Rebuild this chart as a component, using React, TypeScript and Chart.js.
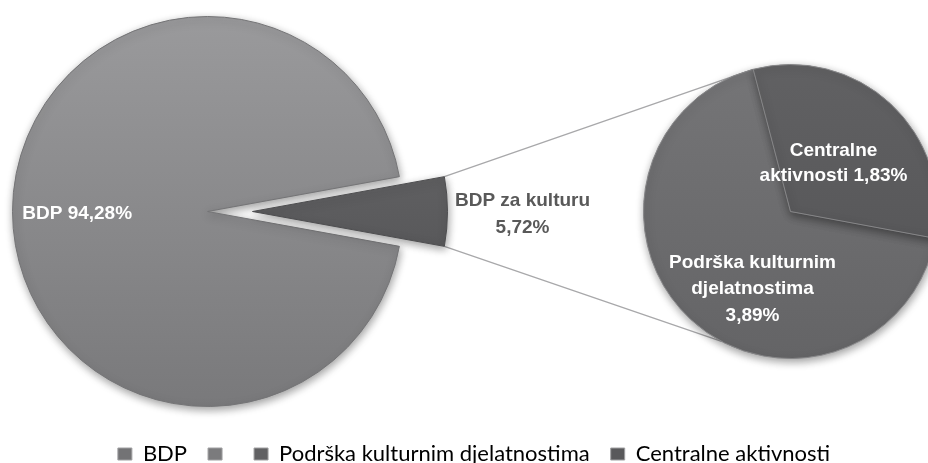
import React, { useEffect, useRef } from "react";
import { Chart, registerables } from "chart.js";
Chart.register(...registerables);

// ---- data ----
const MAIN_LABELS = ["BDP", "BDP za kulturu"];
const MAIN_VALUES = [94.28, 5.72];
const SUB_LABELS = ["Podrška kulturnim djelatnostima", "Centralne aktivnosti"];
const SUB_VALUES = [3.89, 1.83];
const LEGEND_LABELS = ["BDP", "", "Podrška kulturnim djelatnostima", "Centralne aktivnosti"];
const MAIN_LABEL_LINES = [["BDP 94,28%"], ["BDP za kulturu", "5,72%"]];
const SUB_LABEL_LINES = [["Podrška kulturnim", "djelatnostima", "3,89%"], ["Centralne", "aktivnosti 1,83%"]];

// ---- layout / style ----
const W = 928;
const H = 463;
const PAD = 12;
const L_R = 195;
const L_CX = 207;
const L_CY = 211;
const SHIFT = 45;
const R_R = 147;
const R_CX = 790;
const R_CY = 211;
const L_SIZE = 2 * L_R + 1 + 2 * PAD;
const R_SIZE = 2 * R_R + 1 + 2 * PAD;
const L_LEFT = Math.round(L_CX - L_SIZE / 2);
const L_TOP = Math.round(L_CY - L_SIZE / 2);
const S_LEFT = L_LEFT + SHIFT;
const R_LEFT = Math.round(R_CX - R_SIZE / 2);
const R_TOP = Math.round(R_CY - R_SIZE / 2);
const OV_H = 475;
const BOTTOM_CONNECT_DEG = 118;
const LABEL_FONT = "bold 19px 'Liberation Sans', Arial, sans-serif";
const TRANSPARENT = "rgba(0,0,0,0)";
const LEGEND_COLORS = ["#737375", "#7b7b7d", "#616163", "#59595b"];

function grad(chart: any, top: string, bottom: string) {
  const a = chart.chartArea;
  if (!a) return bottom;
  const g = chart.ctx.createLinearGradient(0, a.top, 0, a.bottom);
  g.addColorStop(0, top);
  g.addColorStop(1, bottom);
  return g;
}

const shadowPlugin = {
  id: "shadow",
  beforeDatasetsDraw(chart: any) {
    const ctx = chart.ctx;
    ctx.save();
    ctx.shadowColor = "rgba(0,0,0,0.38)";
    ctx.shadowBlur = 8;
    ctx.shadowOffsetX = 1;
    ctx.shadowOffsetY = 3;
  },
  afterDatasetsDraw(chart: any) {
    chart.ctx.restore();
  },
};

function drawLines(ctx: CanvasRenderingContext2D, lines: string[], x: number, y: number, lh: number, color: string, align: CanvasTextAlign) {
  ctx.save();
  ctx.font = LABEL_FONT;
  ctx.fillStyle = color;
  ctx.textAlign = align;
  ctx.textBaseline = "middle";
  lines.forEach((t, i) => ctx.fillText(t, x, y + i * lh));
  ctx.restore();
}

export default function App() {
  const ovRef = useRef<HTMLCanvasElement>(null);
  const mainRef = useRef<HTMLCanvasElement>(null);
  const sliceRef = useRef<HTMLCanvasElement>(null);
  const subRef = useRef<HTMLCanvasElement>(null);

  useEffect(() => {
    const rotation = 90 + ((MAIN_VALUES[1] / (MAIN_VALUES[0] + MAIN_VALUES[1])) * 360) / 2;
    const baseOpts = (extra: any = {}) => ({
      responsive: false,
      animation: false as const,
      rotation,
      layout: { padding: PAD },
      plugins: { legend: { display: false }, tooltip: { enabled: false } },
      ...extra,
    });

    const mainChart = new Chart(mainRef.current!, {
      type: "pie",
      data: {
        labels: MAIN_LABELS,
        datasets: [
          {
            data: MAIN_VALUES,
            backgroundColor: (c: any) => (c.dataIndex === 0 ? grad(c.chart, "#9a9a9c", "#79797b") : TRANSPARENT),
            borderColor: (c: any) => (c.dataIndex === 0 ? "#747476" : TRANSPARENT),
            borderWidth: 1,
          },
        ],
      },
      options: baseOpts(),
      plugins: [
        shadowPlugin,
        {
          id: "mainLabel",
          afterDraw(chart: any) {
            const arc = chart.getDatasetMeta(0).data[0];
            drawLines(chart.ctx, MAIN_LABEL_LINES[0], arc.x - 0.95 * arc.outerRadius, arc.y + 2, 26, "#ffffff", "left");
          },
        },
      ],
    });

    const sliceChart = new Chart(sliceRef.current!, {
      type: "pie",
      data: {
        labels: MAIN_LABELS,
        datasets: [
          {
            data: MAIN_VALUES,
            backgroundColor: (c: any) => (c.dataIndex === 1 ? grad(c.chart, "#6e6e70", "#4a4a4c") : TRANSPARENT),
            borderColor: (c: any) => (c.dataIndex === 1 ? "#4d4d4f" : TRANSPARENT),
            borderWidth: 1,
          },
        ],
      },
      options: baseOpts(),
      plugins: [shadowPlugin],
    });

    const subRotation = 90 + 10.5;
    const subChart = new Chart(subRef.current!, {
      type: "pie",
      data: {
        labels: SUB_LABELS,
        datasets: [
          {
            data: SUB_VALUES,
            backgroundColor: (c: any) =>
              c.dataIndex === 0 ? grad(c.chart, "#757577", "#646466") : grad(c.chart, "#616163", "#525254"),
            borderColor: "#858587",
            borderWidth: 1,
          },
        ],
      },
      options: baseOpts({ rotation: subRotation }),
      plugins: [
        shadowPlugin,
        {
          id: "subLabels",
          afterDraw(chart: any) {
            const arc = chart.getDatasetMeta(0).data[0];
            const cx = arc.x;
            const cy = arc.y;
            drawLines(chart.ctx, SUB_LABEL_LINES[0], cx - 38, cy + 51, 26.5, "#ffffff", "center");
            drawLines(chart.ctx, SUB_LABEL_LINES[1], cx + 43, cy - 61, 25, "#ffffff", "center");
          },
        },
      ],
    });

    const ovChart = new Chart(ovRef.current!, {
      type: "pie",
      data: { labels: LEGEND_LABELS, datasets: [{ data: [] }] },
      options: {
        responsive: false,
        animation: false,
        layout: { padding: { left: 20 } },
        plugins: {
          tooltip: { enabled: false },
          legend: {
            display: true,
            position: "bottom",
            labels: {
              font: { family: "Lato", size: 22 },
              color: "#5a5a5a",
              boxWidth: 14,
              boxHeight: 12,
              padding: 21,
              generateLabels: () =>
                LEGEND_LABELS.map((t, i) => ({
                  text: t,
                  fillStyle: LEGEND_COLORS[i],
                  strokeStyle: "#a0a0a2",
                  lineWidth: 1,
                  hidden: false,
                  index: i,
                  datasetIndex: 0,
                })),
            },
          },
        },
      },
      plugins: [
        {
          id: "connectors",
          afterDraw(chart: any) {
            const ctx = chart.ctx;
            const s = sliceChart.getDatasetMeta(0).data[1] as any;
            const sx = s.x + S_LEFT;
            const sy = s.y + L_TOP;
            const sr = s.outerRadius;
            const c = subChart.getDatasetMeta(0).data[1] as any;
            const rx = c.x + R_LEFT;
            const ry = c.y + R_TOP;
            const rr = c.outerRadius;
            const b = (BOTTOM_CONNECT_DEG * Math.PI) / 180;
            ctx.save();
            ctx.strokeStyle = "#a8a8aa";
            ctx.lineWidth = 1.3;
            ctx.beginPath();
            ctx.moveTo(sx + sr * Math.cos(s.startAngle), sy + sr * Math.sin(s.startAngle));
            ctx.lineTo(rx + rr * Math.cos(c.startAngle), ry + rr * Math.sin(c.startAngle));
            ctx.moveTo(sx + sr * Math.cos(s.endAngle), sy + sr * Math.sin(s.endAngle));
            ctx.lineTo(rx + rr * Math.cos(b), ry + rr * Math.sin(b));
            ctx.stroke();
            ctx.restore();
            drawLines(ctx, MAIN_LABEL_LINES[1], sx + sr + 75, sy - 11, 27, "#595959", "center");
          },
        },
      ],
    });

    return () => {
      ovChart.destroy();
      mainChart.destroy();
      sliceChart.destroy();
      subChart.destroy();
    };
  }, []);

  const abs = (left: number, top: number, w: number, h: number): React.CSSProperties => ({
    position: "absolute",
    left,
    top,
    width: w,
    height: h,
  });

  return (
    <div style={{ position: "fixed", left: 0, top: 0, width: W, height: H, overflow: "hidden", background: "#ffffff" }}>
      <canvas ref={ovRef} width={W} height={OV_H} style={abs(0, 0, W, OV_H)} />
      <canvas ref={mainRef} width={L_SIZE} height={L_SIZE} style={abs(L_LEFT, L_TOP, L_SIZE, L_SIZE)} />
      <canvas ref={sliceRef} width={L_SIZE} height={L_SIZE} style={abs(S_LEFT, L_TOP, L_SIZE, L_SIZE)} />
      <canvas ref={subRef} width={R_SIZE} height={R_SIZE} style={abs(R_LEFT, R_TOP, R_SIZE, R_SIZE)} />
    </div>
  );
}
